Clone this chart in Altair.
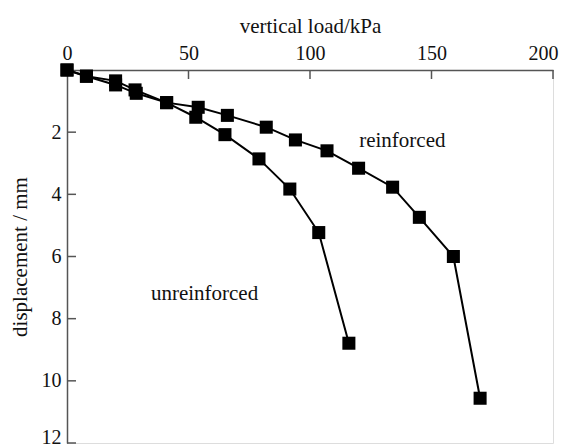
import altair as alt
import pandas as pd

# Data
reinf_load = [0, 8, 20, 28, 41, 54, 66, 82, 94, 107, 120, 134, 145, 159, 170]
reinf_disp = [0, 0.2, 0.35, 0.64, 1.05, 1.2, 1.46, 1.84, 2.25, 2.6, 3.16, 3.77, 4.74, 6.0, 10.56]
unreinf_load = [0, 8, 20, 28.5, 41, 53, 65, 79, 91.7, 103.6, 116]
unreinf_disp = [0, 0.2, 0.48, 0.75, 1.05, 1.52, 2.08, 2.86, 3.83, 5.23, 8.79]

x_ticks = [0, 50, 100, 150, 200]
y_ticks = [2, 4, 6, 8, 10, 12]

label_text = ["reinforced", "unreinforced"]
label_load = [138, 56.6]
label_disp = [2.27, 7.2]

FONT = "Liberation Serif"
FS = 21

rows = []
for i, (a, b) in enumerate(zip(reinf_load, reinf_disp)):
    rows.append({"series": "reinforced", "load": a, "disp": b, "order": i})
for i, (a, b) in enumerate(zip(unreinf_load, unreinf_disp)):
    rows.append({"series": "unreinforced", "load": a, "disp": b, "order": i})
df = pd.DataFrame(rows)

xscale = alt.Scale(domain=[0, 200], nice=False, zero=False)
yscale = alt.Scale(domain=[0, 12], reverse=True, nice=False, zero=False)

xaxis = alt.Axis(orient="top", values=x_ticks, title="vertical load/kPa", tickSize=0,
                 labelFont=FONT, labelFontSize=20, labelColor="#111", labelPadding=7,
                 titleFont=FONT, titleFontSize=FS, titleFontWeight="normal", titleColor="#111",
                 titlePadding=7, domainColor="#555", domainWidth=1.5, grid=False,
                 labelFlush=True, labelFlushOffset=5)
yaxis = alt.Axis(orient="left", values=y_ticks, title="displacement / mm", tickSize=0,
                 labelFont=FONT, labelFontSize=20, labelColor="#111", labelPadding=6,
                 titleFont=FONT, titleFontSize=FS, titleFontWeight="normal", titleColor="#111",
                 titlePadding=11, domainColor="#555", domainWidth=1.5, grid=False,
                 labelFlush=True, labelFlushOffset=4)

base = alt.Chart(df)
lines = base.mark_line(color="black", strokeWidth=2).encode(
    x=alt.X("load:Q", scale=xscale, axis=xaxis),
    y=alt.Y("disp:Q", scale=yscale, axis=yaxis),
    detail="series:N",
    order="order:Q",
)
points = base.mark_square(color="black", size=170, opacity=1).encode(
    x=alt.X("load:Q", scale=xscale),
    y=alt.Y("disp:Q", scale=yscale),
)

xt = alt.Chart(pd.DataFrame({"t": x_ticks[1:]})).mark_rule(color="#555", strokeWidth=1.5).encode(
    x=alt.X("t:Q", scale=xscale), y=alt.value(0), y2=alt.value(9))
yt = alt.Chart(pd.DataFrame({"t": y_ticks})).mark_rule(color="#555", strokeWidth=1.5).encode(
    y=alt.Y("t:Q", scale=yscale), x=alt.value(0), x2=alt.value(9))

labels = alt.Chart(pd.DataFrame({"text": label_text, "load": label_load, "disp": label_disp})).mark_text(
    font=FONT, fontSize=FS, color="#111", align="center", baseline="middle").encode(
    x=alt.X("load:Q", scale=xscale), y=alt.Y("disp:Q", scale=yscale), text="text:N")

chart = alt.layer(lines, points, xt, yt, labels).properties(
    width=486, height=373,
    autosize=alt.AutoSizeParams(type="none"),
    padding={"left": 67, "top": 70, "right": 11, "bottom": 5},
).configure_view(stroke=None).configure(background="white")

chart.save("out.html", embed_options={"renderer": "svg", "actions": False})
